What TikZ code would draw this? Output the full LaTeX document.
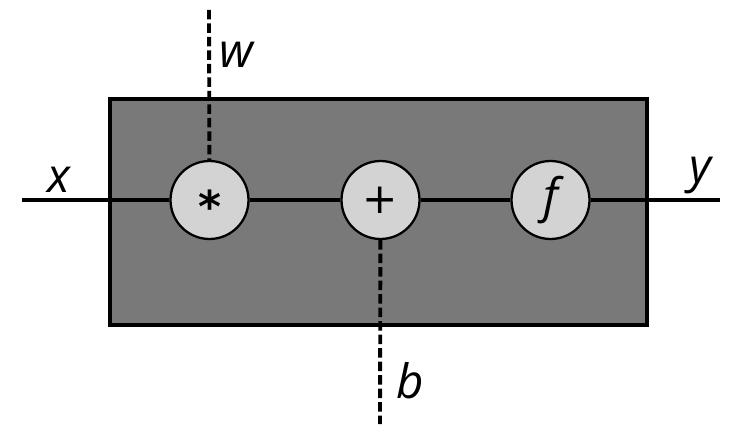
\documentclass[tikz,border=0pt]{standalone}
\usepackage{fontspec}
\setmainfont{Open Sans}
\newfontfamily\symfont{DejaVu Sans}
\tikzset{
  op/.style={circle,draw,line width=1.3pt,fill=opgray,minimum size=1.56cm,inner sep=0pt,
    font=\fontsize{27}{32}\selectfont},
  wire/.style={line width=2pt},
  biasline/.style={line width=2.2pt,dash pattern=on 0.19cm off 0.08cm},
  lbl/.style={anchor=base,inner sep=0pt,font=\fontsize{27}{32}\selectfont\itshape}
}
\definecolor{boxgray}{HTML}{797979}
\definecolor{opgray}{HTML}{D3D3D3}
\begin{document}
\begin{tikzpicture}[x=0.02cm,y=-0.02cm,line cap=butt]
  \useasboundingbox (0,0) rectangle (746,435);
  % the layer
  \node[draw,line width=2pt,fill=boxgray,minimum width=10.74cm,minimum height=4.52cm,inner sep=0pt]
    (layer) at (378.5,212) {};
  \coordinate (in) at (22,200);
  \coordinate (out) at (720,200);
  \coordinate (wtop) at (209,10);
  \coordinate (bbot) at (380,424);
  \node[op] (mul) at (209.5,200) {\fontsize{25}{30}\symfont\bfseries\smash{\raisebox{-0.52em}{*}}};
  \node[op] (add) at (380.5,200) {\fontsize{24}{30}\symfont +};
  \node[op] (act) at (550.5,200) {\itshape f};
  \draw[wire] (in) -- (mul) -- (add) -- (act) -- (out);
  \draw[biasline] (wtop) -- (mul);
  \draw[biasline] (add) -- (bbot);
  \node[lbl] (xl) at (59,193) {x};
  \node[lbl] (wl) at (236,68) {w};
  \node[lbl] (yl) at (700,183) {y};
  \node[lbl] (bl) at (410,398) {b};
\end{tikzpicture}
\end{document}
